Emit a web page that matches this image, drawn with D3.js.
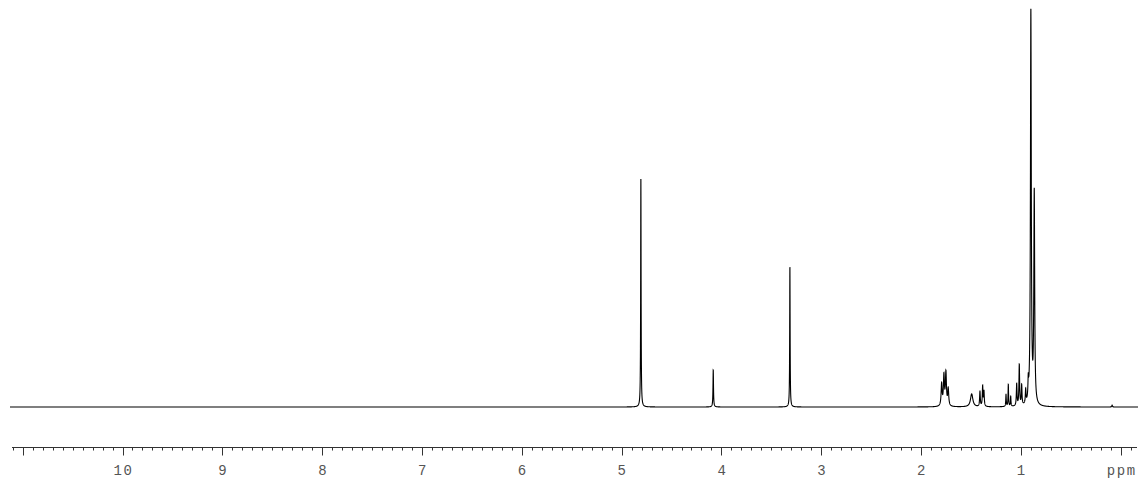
<!DOCTYPE html>
<html>
<head>
<meta charset="utf-8">
<script src="https://cdn.jsdelivr.net/npm/d3@7"></script>
<style>
  html, body { margin: 0; padding: 0; background: #fff; }
  svg { display: block; }
</style>
</head>
<body>
<svg id="chart" width="1141" height="481"></svg>
<script>
// peak list (shift in ppm, height, half-width in ppm)
var peakPpm    = [4.807, 4.082, 3.314,
                  1.794, 1.771, 1.751, 1.728,
                  1.493,
                  1.410, 1.383, 1.370,
                  1.149, 1.126, 1.102,
                  1.042, 1.016, 0.992, 0.952, 0.926,
                  0.900, 0.866,
                  0.086];
var peakHeight = [230, 37, 141,
                  22, 30, 33, 17,
                  13,
                  15, 20, 15,
                  12, 22, 10,
                  22, 41, 20, 14, 18,
                  394, 211,
                  2];
var peakWidth  = [0.0025, 0.003, 0.0025,
                  0.006, 0.006, 0.006, 0.006,
                  0.014,
                  0.004, 0.004, 0.004,
                  0.003, 0.003, 0.003,
                  0.004, 0.004, 0.004, 0.004, 0.004,
                  0.005, 0.005,
                  0.003];

var majorTicks = [0, 1, 2, 3, 4, 5, 6, 7, 8, 9, 10, 11];
var tickLabels = ['ppm', '1', '2', '3', '4', '5', '6', '7', '8', '9', '10', ''];

var svg = d3.select('#chart');

var x = d3.scaleLinear().domain([11, 0]).range([22.7, 1120.7]);
var y = d3.scaleLinear().domain([0, 400]).range([407, 7]);

var left = x.invert(10), right = x.invert(1138);

/* build the trace from the peak list */
var trace = [];
for (var p = left; p >= right; p -= 0.0005) {
    var v = 0;
    for (var i = 0; i < peakPpm.length; i++) {
        var d = p - peakPpm[i], w = peakWidth[i];
        v += peakHeight[i] * w * w / (d * d + w * w);
    }
    trace.push([p, v]);
}

var line = d3.line()
    .x(function(d) { return x(d[0]); })
    .y(function(d) { return y(d[1]); });

svg.append('path')
    .datum(trace)
    .attr('d', line)
    .attr('fill', 'none')
    .attr('stroke', '#000')
    .attr('stroke-width', 1.1);

/* ppm axis */
var axisY = 447.5;
var ax = svg.append('g').attr('transform', 'translate(0,' + axisY + ')');

ax.append('line')
    .attr('x1', 12).attr('x2', 1137)
    .attr('stroke', '#333').attr('stroke-width', 1);

var minor = d3.range(-1, 112).map(function(k) { return k / 10; })
    .filter(function(v) { return x(v) >= 12 && x(v) <= 1137 && Math.abs(v - Math.round(v)) > 1e-6; });

ax.selectAll('line.minor')
    .data(minor)
    .enter().append('line')
    .attr('class', 'minor')
    .attr('x1', function(d) { return Math.round(x(d)) + 0.5; })
    .attr('x2', function(d) { return Math.round(x(d)) + 0.5; })
    .attr('y1', 0).attr('y2', 3)
    .attr('stroke', '#333');

ax.selectAll('line.major')
    .data(majorTicks)
    .enter().append('line')
    .attr('class', 'major')
    .attr('x1', function(d) { return Math.round(x(d)) + 0.5; })
    .attr('x2', function(d) { return Math.round(x(d)) + 0.5; })
    .attr('y1', 0).attr('y2', 8)
    .attr('stroke', '#333');

ax.selectAll('text')
    .data(majorTicks)
    .enter().append('text')
    .attr('x', function(d) { return x(d) + 1; })
    .attr('y', 27)
    .attr('text-anchor', 'middle')
    .attr('font-family', '"Liberation Mono", "DejaVu Sans Mono", monospace')
    .attr('font-size', 14)
    .attr('letter-spacing', 1.6)
    .attr('fill', '#555')
    .text(function(d, i) { return tickLabels[i]; });
</script>
</body>
</html>
